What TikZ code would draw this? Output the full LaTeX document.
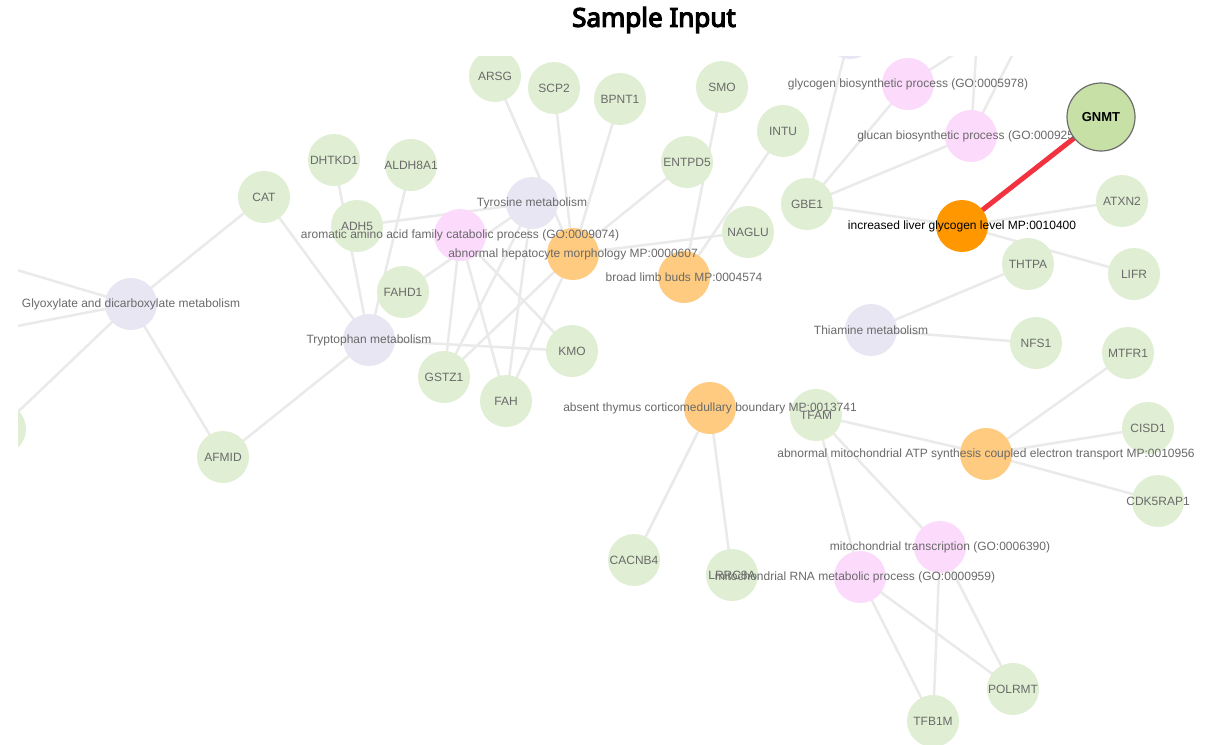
\documentclass[tikz,border=0pt]{standalone}
\usepackage{fontspec}
\setmainfont{Liberation Sans}
\newfontfamily\titlefont[FakeBold=4.5]{Noto Sans}
\definecolor{cgene}{HTML}{E0EFD3}
\definecolor{clav}{HTML}{E8E6F2}
\definecolor{cpink}{HTML}{FCDAFC}
\definecolor{corl}{HTML}{FECB80}
\definecolor{cors}{HTML}{FF9800}
\definecolor{cgnmt}{HTML}{C6E0A6}
\definecolor{cedge}{HTML}{EAEAEA}
\definecolor{ctxt}{HTML}{6A6A6A}
\definecolor{cred}{HTML}{F2323E}
\begin{document}
\begin{tikzpicture}[x=1pt,y=-1pt,
  dot/.style={circle,minimum size=52pt,inner sep=0pt},
  genen/.style={dot,fill=cgene},
  lavn/.style={dot,fill=clav},
  pinkn/.style={dot,fill=cpink},
  orln/.style={dot,fill=corl},
  orsn/.style={dot,fill=cors},
  lbl/.style={text=ctxt,font=\fontsize{12}{14}\selectfont,inner sep=0pt},
  link/.style={draw=cedge,line width=2.5pt}]
\useasboundingbox (0,0) rectangle (1220,744);
\fill[white] (0,0) rectangle (1220,744);
\node[font=\titlefont\fontsize{26}{30}\selectfont] (title) at (654,20) {Sample Input};
\begin{scope}
\clip (18,56) rectangle (1220,744);
% positions
\coordinate (arsg) at (495,76);
\coordinate (scp2) at (554,88);
\coordinate (bpnt1) at (620,99);
\coordinate (smo) at (722,87);
\coordinate (intu) at (783,131);
\coordinate (entpd5) at (687,162);
\coordinate (dhtkd1) at (334,160);
\coordinate (aldh8a1) at (411,165);
\coordinate (cat) at (264,197);
\coordinate (adh5) at (357,226);
\coordinate (tyr) at (532,203);
\coordinate (arom) at (460,235);
\coordinate (hep) at (573,254);
\coordinate (naglu) at (748,232);
\coordinate (gbe1) at (807,204);
\coordinate (broad) at (684,277);
\coordinate (glycogen) at (908,84);
\coordinate (glucan) at (971,136);
\coordinate (gnmt) at (1101,117);
\coordinate (incr) at (962,226);
\coordinate (atxn2) at (1122,201);
\coordinate (thtpa) at (1028,264);
\coordinate (lifr) at (1134,274);
\coordinate (glyo) at (131,304);
\coordinate (fahd1) at (403,292);
\coordinate (tryp) at (369,340);
\coordinate (kmo) at (572,351);
\coordinate (thia) at (871,330);
\coordinate (nfs1) at (1036,343);
\coordinate (mtfr1) at (1128,353);
\coordinate (gstz1) at (444,377);
\coordinate (fah) at (506,401);
\coordinate (thymus) at (710,408);
\coordinate (tfam) at (816,415);
\coordinate (atp) at (986,454);
\coordinate (cisd1) at (1148,428);
\coordinate (cdk5) at (1158,501);
\coordinate (leftn) at (0,429);
\coordinate (afmid) at (223,457);
\coordinate (cacnb4) at (634,560);
\coordinate (lrrc8a) at (732,575);
\coordinate (trans) at (940,547);
\coordinate (rna) at (860,577);
\coordinate (polrmt) at (1013,689);
\coordinate (tfb1m) at (933,721);
\coordinate (toplav) at (850,33);
\coordinate (offa) at (-50,250);
\coordinate (offb) at (-50,339);
\coordinate (offc) at (1007,20);
\coordinate (offd) at (978,20);
\coordinate (offe) at (1030,20);
% connectors
\foreach \a/\b in {glyo/cat,glyo/offa,glyo/offb,glyo/leftn,glyo/afmid,
  cat/tryp,dhtkd1/tryp,aldh8a1/tryp,tryp/kmo,tryp/afmid,
  adh5/tyr,fahd1/tyr,arom/gstz1,arom/fah,arom/kmo,tyr/gstz1,tyr/fah,
  hep/gstz1,hep/fah,hep/arsg,hep/scp2,hep/bpnt1,hep/entpd5,hep/naglu,
  broad/smo,broad/intu,gbe1/incr,gbe1/glycogen,gbe1/glucan,gbe1/toplav,
  incr/atxn2,incr/lifr,thia/thtpa,thia/nfs1,glycogen/offc,glucan/offd,glucan/offe,
  tfam/atp,tfam/trans,tfam/rna,atp/mtfr1,atp/cisd1,atp/cdk5,
  thymus/cacnb4,thymus/lrrc8a,rna/tfb1m,rna/polrmt,trans/tfb1m,trans/polrmt}
  \draw[link] (\a) -- (\b);
\draw[draw=cred,line width=5pt] (incr) -- (gnmt);
% circles
\foreach \n in {arsg,scp2,bpnt1,smo,intu,entpd5,dhtkd1,aldh8a1,cat,adh5,naglu,gbe1,
  atxn2,thtpa,lifr,fahd1,kmo,nfs1,mtfr1,gstz1,fah,tfam,cisd1,cdk5,leftn,afmid,
  cacnb4,lrrc8a,polrmt,tfb1m}
  \node[genen] (N\n) at (\n) {};
\foreach \n in {tyr,glyo,tryp,thia,toplav}
  \node[lavn] (N\n) at (\n) {};
\foreach \n in {arom,glycogen,glucan,trans,rna}
  \node[pinkn] (N\n) at (\n) {};
\foreach \n in {hep,broad,thymus,atp}
  \node[orln] (N\n) at (\n) {};
\node[orsn] (Nincr) at (incr) {};
% labels
\foreach \n/\t in {arsg/ARSG,scp2/SCP2,bpnt1/BPNT1,smo/SMO,intu/INTU,entpd5/ENTPD5,
  dhtkd1/DHTKD1,aldh8a1/ALDH8A1,cat/CAT,adh5/ADH5,naglu/NAGLU,gbe1/GBE1,
  atxn2/ATXN2,thtpa/THTPA,lifr/LIFR,fahd1/FAHD1,kmo/KMO,nfs1/NFS1,mtfr1/MTFR1,
  gstz1/GSTZ1,fah/FAH,tfam/TFAM,cisd1/CISD1,cdk5/CDK5RAP1,afmid/AFMID,
  cacnb4/CACNB4,lrrc8a/LRRC8A,polrmt/POLRMT,tfb1m/TFB1M,
  tyr/Tyrosine metabolism,glyo/Glyoxylate and dicarboxylate metabolism,
  tryp/Tryptophan metabolism,thia/Thiamine metabolism,
  arom/aromatic amino acid family catabolic process (GO:0009074),
  glycogen/glycogen biosynthetic process (GO:0005978),
  glucan/glucan biosynthetic process (GO:0009250),
  trans/mitochondrial transcription (GO:0006390),
  hep/abnormal hepatocyte morphology MP:0000607,
  broad/broad limb buds MP:0004574,
  thymus/absent thymus corticomedullary boundary MP:0013741,
  atp/abnormal mitochondrial ATP synthesis coupled electron transport MP:0010956}
  \node[lbl] (L\n) at (\n) {\t};
\node[lbl] (Lrna) at (855,577) {mitochondrial RNA metabolic process (GO:0000959)};
\node[lbl,text=black] (Lincr) at (incr) {increased liver glycogen level MP:0010400};
\node[dot,minimum size=68pt,fill=cgnmt,draw=gray!85!black,line width=1.2pt] (Ngnmt) at (gnmt) {};
\node[font=\bfseries\fontsize{13}{15}\selectfont,inner sep=0pt] (Lgnmt) at (gnmt) {GNMT};
\end{scope}
\end{tikzpicture}
\end{document}
